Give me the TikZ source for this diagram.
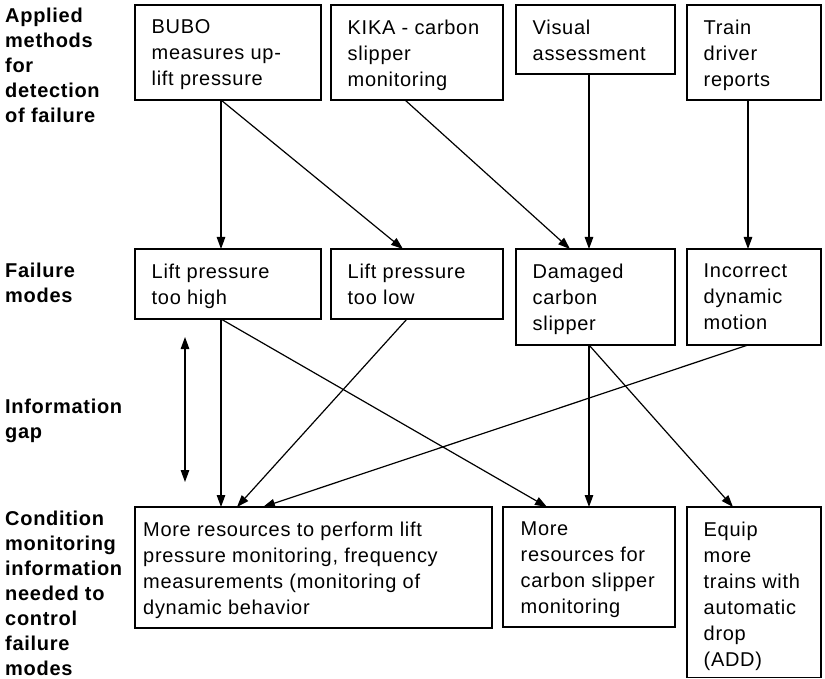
\documentclass[tikz,border=0pt]{standalone}
\usepackage{fontspec}
\setmainfont{Liberation Sans}[LetterSpace=3.5]
\usetikzlibrary{arrows.meta,calc}
\newcommand\mkbox[7][16.5]{%
  \node[box, minimum width=#5, minimum height=#6] (#2) at (#3,#4) {};
  \node[txt] (#2-t) at ($(#2.north west)+(#1,14.5)$) {#7};}
\begin{document}
\begin{tikzpicture}[x=1pt,y=-1pt,
  box/.style={draw, line width=1.3pt, anchor=north west, inner sep=0pt, outer sep=0pt},
  txt/.style={anchor=north west, inner sep=0pt, align=left, font=\fontsize{20}{26}\selectfont},
  lab/.style={anchor=north west, inner sep=0pt, align=left, font=\fontsize{20}{25}\selectfont\bfseries},
  tip/.tip={Triangle[length=12pt,width=8.5pt]},
  arr/.style={-tip, line width=1.2pt}]
\useasboundingbox (0,0) rectangle (825,679);
% row labels
\node[lab] (l1) at (5,7.5) {Applied\\methods\\for\\detection\\of failure};
\node[lab] (l2) at (5,262.5) {Failure\\modes};
\node[lab] (l3) at (5,398.5) {Information\\gap};
\node[lab] (l4) at (5,510.5) {Condition\\monitoring\\information\\needed to\\control\\failure\\modes};
% top row
\mkbox{bubo}{135}{5}{186}{95}{BUBO\\measures up-\\lift pressure}
\mkbox{kika}{331}{5}{172}{95}{KIKA - carbon\\slipper\\monitoring}
\mkbox{visual}{516}{5}{159}{69}{Visual\\assessment}
\mkbox{train}{687}{5}{134}{95}{Train\\driver\\reports}
% failure modes
\mkbox{high}{135}{249}{186}{70}{Lift pressure\\too high}
\mkbox{low}{331}{249}{172}{70}{Lift pressure\\too low}
\mkbox{damaged}{516}{249}{159}{96}{Damaged\\carbon\\slipper}
\mkbox{incorrect}{687}{249}{134}{96}{Incorrect\\dynamic\\motion}
% needed information
\mkbox[8]{res1}{135}{507}{357}{121}{More resources to perform lift\\pressure monitoring, frequency\\measurements (monitoring of\\dynamic behavior}
\mkbox[17.5]{res2}{503}{507}{172}{120}{More\\resources for\\carbon slipper\\monitoring}
\mkbox{equip}{687}{507}{134}{170.5}{Equip\\more\\trains with\\automatic\\drop\\(ADD)}
% connectors
\draw[arr] ([xshift=86]bubo.south west) -- ([xshift=86]high.north west);
\draw[arr] ([xshift=86]bubo.south west) -- ([xshift=72]low.north west);
\draw[arr] ([xshift=74]kika.south west) -- ([xshift=54]damaged.north west);
\draw[arr] ([xshift=73]visual.south west) -- ([xshift=73]damaged.north west);
\draw[arr] ([xshift=61]train.south west) -- ([xshift=61]incorrect.north west);
\draw[arr] ([xshift=86]high.south west) -- ([xshift=86]res1.north west);
\draw[arr] ([xshift=86]high.south west) -- ([xshift=44]res2.north west);
\draw[arr] ([xshift=76]low.south west) -- ([xshift=102]res1.north west);
\draw[arr] ([xshift=61]incorrect.south west) -- ([xshift=128]res1.north west);
\draw[arr] ([xshift=73]damaged.south west) -- ([xshift=86]res2.north west);
\draw[arr] ([xshift=73]damaged.south west) -- ([xshift=46]equip.north west);
\coordinate (gaptop) at (185,337);
\coordinate (gapbot) at (185,482);
\draw[tip-tip, line width=1.2pt] (gaptop) -- (gapbot);
\end{tikzpicture}
\end{document}
